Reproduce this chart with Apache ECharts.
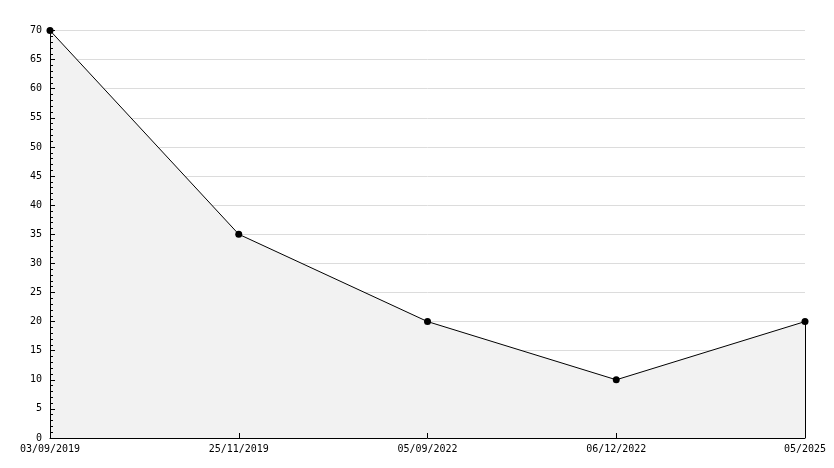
<!DOCTYPE html>
<html><head><meta charset="utf-8">
<script src="https://cdn.jsdelivr.net/npm/echarts@6/dist/echarts.min.js"></script>
<style>html,body{margin:0;padding:0;background:#fff}#c{width:834px;height:468px}</style>
</head><body><div id="c"></div>
<script>
const categories = ['03/09/2019', '25/11/2019', '05/09/2022', '06/12/2022', '05/2025'];
const values = [70, 35, 20, 10, 20];
const yMin = 0, yMax = 70, yStep = 5;

const font = 'DejaVu Sans Mono';
const chart = echarts.init(document.getElementById('c'), null, {renderer: 'canvas'});
const last = categories.length - 1;
chart.setOption({
  animation: false,
  backgroundColor: '#ffffff',
  grid: {left: 50, right: 29, top: 30.5, bottom: 30, containLabel: false},
  xAxis: {
    type: 'category', data: categories, boundaryGap: false, z: 10,
    axisLine: {lineStyle: {color: '#000', width: 1}},
    axisTick: {show: true, inside: true, length: 5, alignWithLabel: true, lineStyle: {color: '#000'}},
    axisLabel: {fontFamily: font, fontSize: 10, color: '#000', margin: 6, interval: 0},
    splitLine: {show: false}
  },
  yAxis: [{
    type: 'value', min: yMin, max: yMax, interval: yStep, z: 0,
    axisLine: {show: false}, axisTick: {show: false}, axisLabel: {show: false},
    splitLine: {show: true, lineStyle: {color: '#dcdcdc', width: 1}}
  }, {
    type: 'value', min: yMin, max: yMax, interval: yStep, position: 'left', z: 10,
    axisLine: {show: true, onZero: false, lineStyle: {color: '#000', width: 1}},
    axisTick: {show: true, inside: true, length: 5, lineStyle: {color: '#000'}},
    minorTick: {show: true, splitNumber: 5, length: 3, lineStyle: {color: '#000'}},
    axisLabel: {fontFamily: font, fontSize: 10, color: '#000', margin: 8},
    splitLine: {show: false}
  }],
  series: [{
    type: 'line', data: values, yAxisIndex: 0,
    symbol: 'circle', symbolSize: 7,
    itemStyle: {color: '#000'},
    lineStyle: {color: '#000', width: 1},
    areaStyle: {color: '#f2f2f2', opacity: 1},
    markLine: {
      silent: true, symbol: 'none', label: {show: false},
      lineStyle: {color: '#000', width: 1, type: 'solid'},
      data: [[{coord: [categories[last], yMin]}, {coord: [categories[last], values[last]]}]]
    }
  }]
});
</script></body></html>
